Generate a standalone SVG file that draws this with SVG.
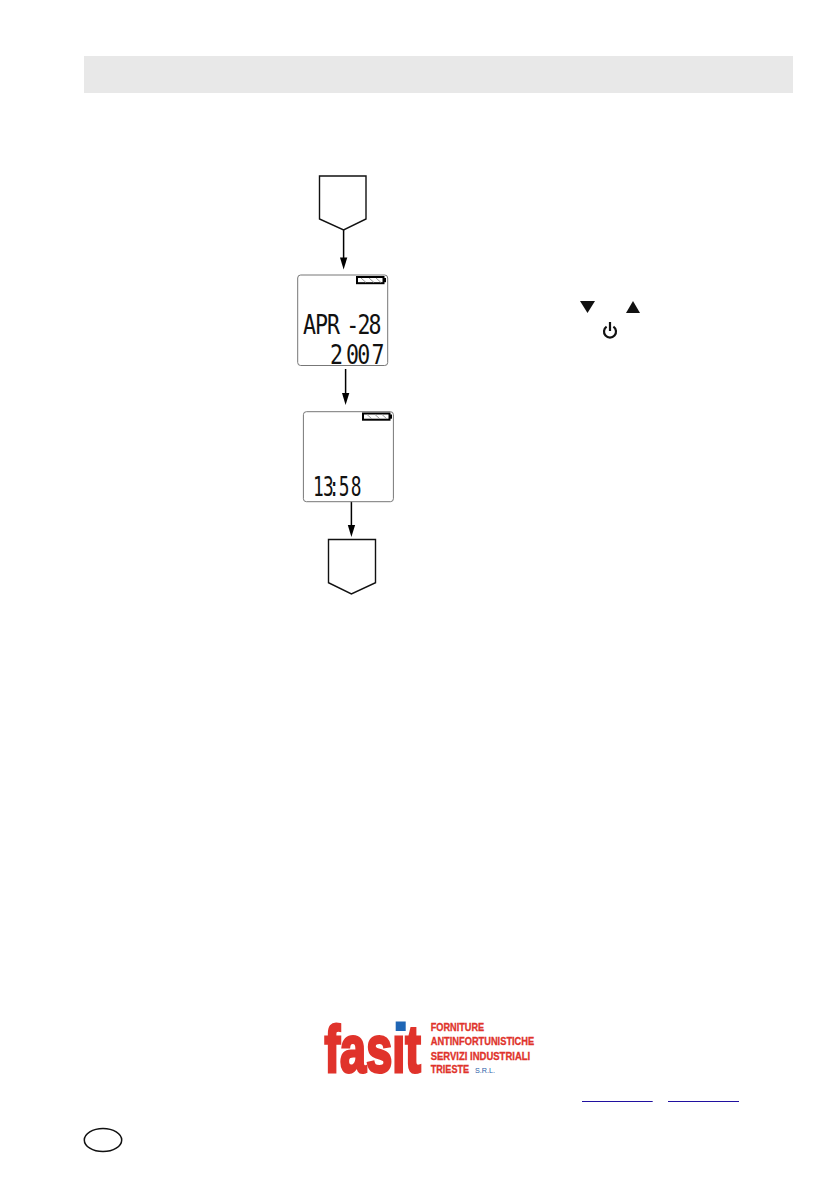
<svg xmlns="http://www.w3.org/2000/svg" width="838" height="1192" viewBox="0 0 838 1192">
<style>
.shape{fill:#fff;stroke:#111;stroke-width:1.4;stroke-linejoin:miter}
.lcd{fill:#fff;stroke:#777;stroke-width:1}
.seg{font-family:"DejaVu Sans Mono","Liberation Mono",monospace;font-size:27px;fill:#111}
.batt{fill:#fff;stroke:#000;stroke-width:2}
.hatch{stroke:#999;stroke-width:1;fill:none}
.lg{font-family:"Liberation Sans",Arial,sans-serif;font-weight:700;font-size:10.5px;fill:#e0332b;stroke:#e0332b;stroke-width:.3}
</style>
<defs>
<g id="battery">
<rect class="batt" x="1" y="1" width="26.5" height="6.2"/>
<rect x="27.5" y="2" width="2.5" height="4.2" fill="#000"/>
<path class="hatch" d="M5 2L10 6.5M13 2L18 6.5M20 2L25 6.5"/>
</g>
</defs>
<rect id="header-band" x="84" y="56" width="709" height="37" fill="#e8e8e8"/>
<g id="connectors">
<g stroke="#000" stroke-width="1.5">
<line x1="343.6" y1="230" x2="343.6" y2="260"/>
<line x1="345.6" y1="369" x2="345.6" y2="395"/>
<line x1="351.4" y1="501" x2="351.4" y2="527"/>
</g>
<g fill="#000">
<polygon points="340,257.5 347.3,257.5 343.6,269.5"/>
<polygon points="342,393 349.3,393 345.6,405"/>
<polygon points="347.8,525 355.1,525 351.4,537"/>
</g>
</g>
<g id="start-offpage"><polygon class="shape" points="319.5,176 366,176 366,219 343.6,230 319.5,219"/></g>
<g id="lcd-date">
<rect class="lcd" x="297.7" y="275" width="90" height="90.5" rx="3"/>
<use href="#battery" x="356" y="276"/>
<text class="seg" transform="translate(303,334) scale(.8,1)" x="0 15 30 54 68 82">APR-28</text>
<text class="seg" transform="translate(330,364) scale(.8,1)" x="0 20 34 52">2007</text>
</g>
<g id="lcd-time">
<rect class="lcd" x="303.4" y="411.7" width="90" height="90" rx="3"/>
<use href="#battery" x="362" y="412.5"/>
<text class="seg" transform="translate(315,496) scale(.66,1)" x="-3 12 21 36 54">13:58</text>
</g>
<g id="end-offpage"><polygon class="shape" points="328.5,539.5 375.5,539.5 375.5,582.7 351.4,594 328.5,582.7"/></g>
<g id="key-symbols" fill="#111">
<polygon points="580,301 595,301 587.5,313"/>
<polygon points="626,313 640,313 633,301"/>
<path d="M606.6 326.6A6 6 0 1 0 613.4 326.6" fill="none" stroke="#111" stroke-width="2.2"/>
<line x1="610" y1="322" x2="610" y2="331" stroke="#111" stroke-width="2.2"/>
</g>
<g id="logo">
<text transform="translate(324.5,1072) scale(.71,1)" font-family="'Liberation Sans',Arial,sans-serif" font-weight="700" font-size="66" fill="#e0332b" stroke="#e0332b" stroke-width="3">fasit</text>
<rect x="391" y="1018" width="15" height="15.5" fill="#fff"/>
<rect x="395.7" y="1021.5" width="10" height="9.5" fill="#1f66b5"/>
<text class="lg" x="430.7" y="1030.7" textLength="53.5" lengthAdjust="spacingAndGlyphs">FORNITURE</text>
<text class="lg" x="430.7" y="1044.7" textLength="103.5" lengthAdjust="spacingAndGlyphs">ANTINFORTUNISTICHE</text>
<text class="lg" x="430.7" y="1060" textLength="99.5" lengthAdjust="spacingAndGlyphs">SERVIZI INDUSTRIALI</text>
<text class="lg" x="430.7" y="1073" textLength="38.5" lengthAdjust="spacingAndGlyphs">TRIESTE</text>
<text x="475" y="1073" font-family="'Liberation Sans',Arial,sans-serif" font-size="7" fill="#2b5ea8" textLength="20" lengthAdjust="spacingAndGlyphs">S.R.L.</text>
</g>
<g id="links" stroke="#2010a0" stroke-width="1">
<line x1="582" y1="1101.5" x2="652.7" y2="1101.5"/>
<line x1="668" y1="1101.5" x2="739" y2="1101.5"/>
</g>
<ellipse id="page-oval" cx="103" cy="1140" rx="18.7" ry="11.6" fill="none" stroke="#111" stroke-width="1.5"/>
</svg>
